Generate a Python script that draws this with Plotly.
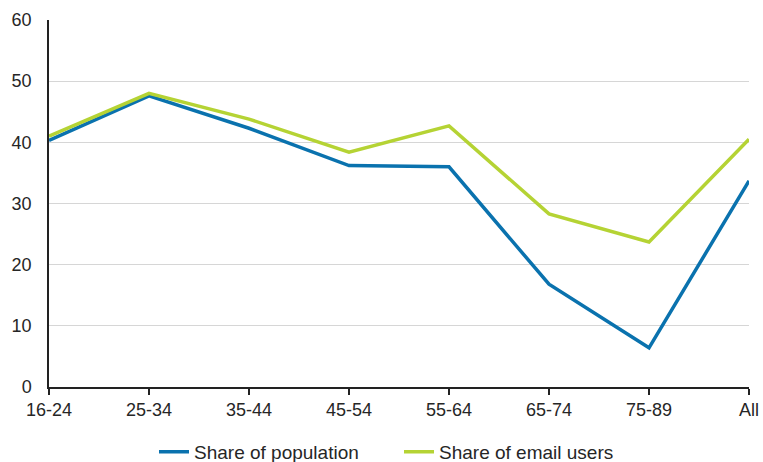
import plotly.graph_objects as go

categories = ["16-24", "25-34", "35-44", "45-54", "55-64", "65-74", "75-89", "All"]
share_population = [40.3, 47.6, 42.3, 36.2, 36.0, 16.8, 6.4, 33.7]
share_email_users = [41.0, 48.0, 43.8, 38.4, 42.7, 28.3, 23.7, 40.5]
y_ticks = [0, 10, 20, 30, 40, 50, 60]

fig = go.Figure()
fig.add_trace(go.Scatter(x=categories, y=share_population, mode="lines",
                         name="Share of population",
                         line=dict(color="#0a72ae", width=3.5)))
fig.add_trace(go.Scatter(x=categories, y=share_email_users, mode="lines",
                         name="Share of email users",
                         line=dict(color="#b5d334", width=3.5)))

fig.update_layout(
    width=763, height=462,
    margin=dict(l=49, r=14, t=20, b=75, autoexpand=False),
    paper_bgcolor="white", plot_bgcolor="white",
    font=dict(family="Liberation Sans, Arial, sans-serif", size=18, color="#262626"),
    legend=dict(orientation="h", x=0.5, xanchor="center", xref="paper",
                y=0.022, yanchor="middle", yref="container",
                entrywidth=200, entrywidthmode="pixels",
                font=dict(size=19, color="#262626")),
    xaxis=dict(type="category", range=[0, 7], showgrid=False, showline=True,
               linecolor="#222222", linewidth=1.5, ticks="outside", ticklen=6,
               tickcolor="#222222", tickwidth=1.5, zeroline=False, automargin=False),
    yaxis=dict(range=[0, 60], tickvals=y_ticks, showgrid=True, gridcolor="#d6d6d6",
               gridwidth=1, showline=True, linecolor="#222222", linewidth=1.5,
               ticks="", zeroline=False, ticklabelstandoff=12, automargin=False),
)

fig.write_html("out.html", config={"displayModeBar": False},
               post_script="document.body.style.margin='0';document.body.style.overflow='hidden';")
